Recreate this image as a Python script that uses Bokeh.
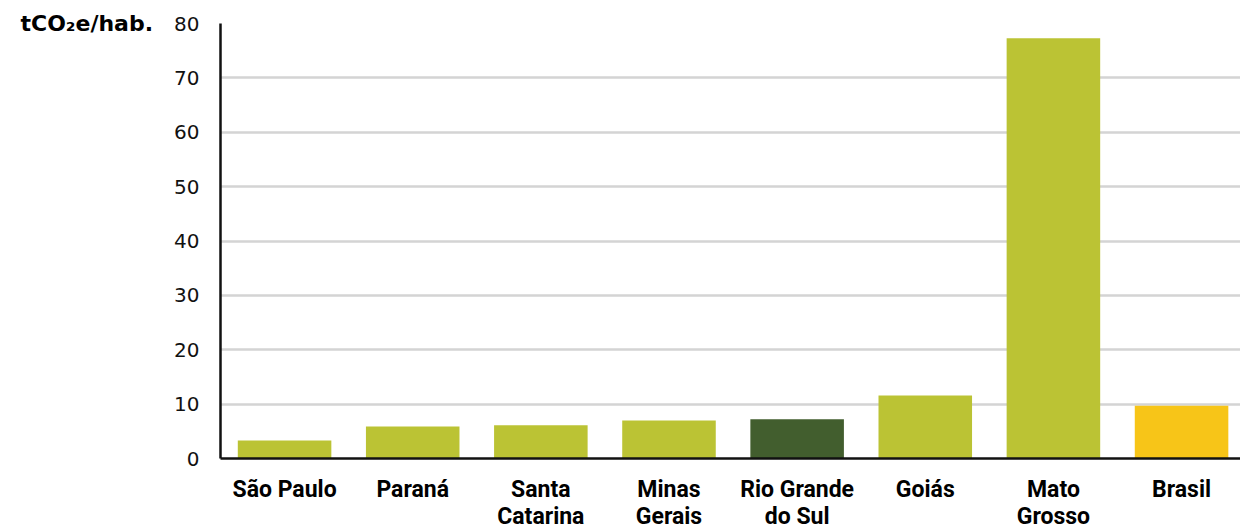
from bokeh.plotting import figure
from bokeh.models import Range1d, FixedTicker
from bokeh.embed import file_html
from bokeh.resources import INLINE

categories = ["São Paulo", "Paraná", "Santa\nCatarina", "Minas\nGerais",
              "Rio Grande\ndo Sul", "Goiás", "Mato\nGrosso", "Brasil"]
values = [3.3, 5.9, 6.1, 7.0, 7.2, 11.6, 77.3, 9.7]
colors = ["#BBC334", "#BBC334", "#BBC334", "#BBC334",
          "#425E2E", "#BBC334", "#BBC334", "#F7C518"]
y_ticks = [0, 10, 20, 30, 40, 50, 60, 70, 80]
y_label = "tCO₂e/hab."

xs = list(range(len(categories)))

p = figure(width=1240, height=532, output_backend="svg", toolbar_location=None,
           x_range=Range1d(-0.5, 7.46), y_range=Range1d(0, 80),
           min_border_left=220, min_border_right=0, min_border_top=23,
           min_border_bottom=74)
p.outline_line_color = None
p.background_fill_color = "white"
p.border_fill_color = "white"

p.vbar(x=xs, top=values, width=0.73, color=colors, line_color=None)

p.xgrid.visible = False
p.ygrid.ticker = FixedTicker(ticks=y_ticks)
p.ygrid.grid_line_color = "#D4D4D4"
p.ygrid.grid_line_width = 2.5

p.yaxis.ticker = FixedTicker(ticks=y_ticks)
p.yaxis.major_tick_line_color = None
p.yaxis.minor_tick_line_color = None
p.yaxis.axis_line_color = "#111111"
p.yaxis.axis_line_width = 2.5
p.yaxis.major_label_text_font = "DejaVu Sans"
p.yaxis.major_label_text_font_size = "20px"
p.yaxis.major_label_text_color = "#111111"
p.yaxis.major_label_standoff = 15

p.yaxis.axis_label = y_label
p.yaxis.axis_label_orientation = "horizontal"
p.yaxis.axis_label_align = "end"
p.yaxis.axis_label_standoff = 18
p.yaxis.axis_label_text_font = "DejaVu Sans"
p.yaxis.axis_label_text_font_style = "bold"
p.yaxis.axis_label_text_font_size = "22px"
p.yaxis.axis_label_text_color = "#000000"

p.xaxis.ticker = FixedTicker(ticks=xs)
p.xaxis.major_label_overrides = {i: c for i, c in enumerate(categories)}
p.xaxis.major_tick_line_color = None
p.xaxis.minor_tick_line_color = None
p.xaxis.axis_line_color = "#111111"
p.xaxis.axis_line_width = 2.5
p.xaxis.major_label_text_font = "Roboto"
p.xaxis.major_label_text_font_style = "bold"
p.xaxis.major_label_text_font_size = "23px"
p.xaxis.major_label_text_color = "#000000"
p.xaxis.major_label_text_line_height = 1.0
p.xaxis.major_label_standoff = 11

open("out.html", "w").write(file_html(p, INLINE))
